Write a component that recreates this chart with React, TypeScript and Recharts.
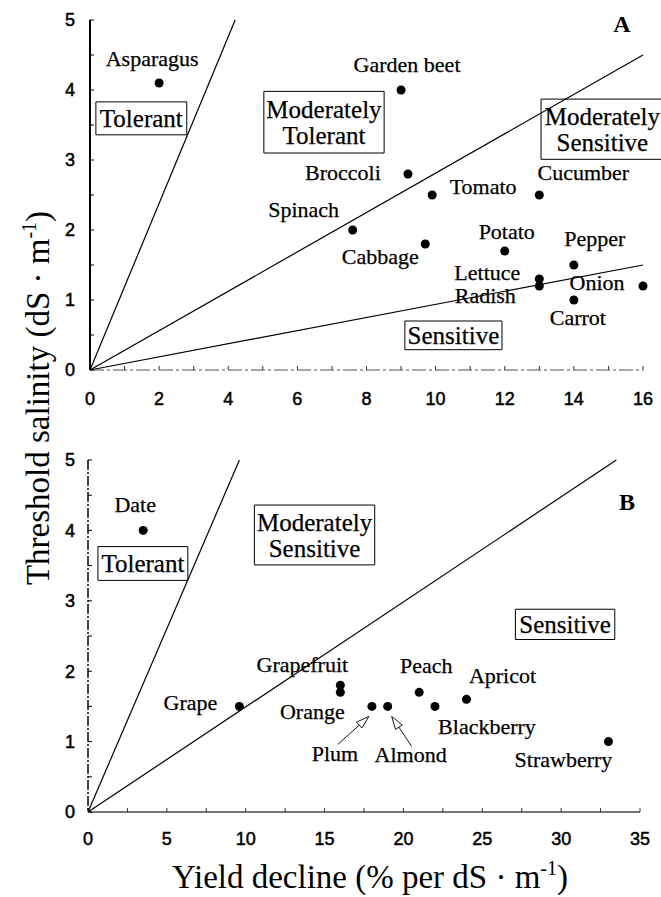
import React from 'react';
import { ScatterChart, Scatter, XAxis, YAxis, ReferenceLine, ReferenceArea } from 'recharts';

// Panel A: vegetable crops
const vegNames = ['Asparagus', 'Garden beet', 'Broccoli', 'Tomato', 'Cucumber', 'Spinach', 'Cabbage', 'Potato', 'Pepper', 'Lettuce', 'Radish', 'Onion', 'Carrot'];
const vegYieldDecline = [2, 9, 9.2, 9.9, 13, 7.6, 9.7, 12, 14, 13, 13, 16, 14];
const vegThreshold = [4.1, 4.0, 2.8, 2.5, 2.5, 2.0, 1.8, 1.7, 1.5, 1.3, 1.2, 1.2, 1.0];

// Panel B: fruit crops
const fruitNames = ['Date', 'Grape', 'Grapefruit', 'Orange', 'Plum', 'Almond', 'Peach', 'Blackberry', 'Apricot', 'Strawberry'];
const fruitYieldDecline = [3.5, 9.6, 16, 16, 18, 19, 21, 22, 24, 33];
const fruitThreshold = [4.0, 1.5, 1.8, 1.7, 1.5, 1.5, 1.7, 1.5, 1.6, 1.0];

// class boundaries, lines through the origin ending at [x, y]
const vegBoundaryEnds = [[4.2, 5], [16, 4.5], [16, 1.5]];
const fruitBoundaryEnds = [[9.6, 5], [33.5, 5]];

const vegXTicks = [0, 1, 2, 3, 4, 5, 6, 7, 8, 9, 10, 11, 12, 13, 14, 15, 16];
const fruitXTicks = [0, 2.5, 5, 7.5, 10, 12.5, 15, 17.5, 20, 22.5, 25, 27.5, 30, 32.5, 35];
const yTicks = [0, 0.5, 1, 1.5, 2, 2.5, 3, 3.5, 4, 4.5, 5];

const vegData = vegNames.map((name, i) => ({ name, x: vegYieldDecline[i], y: vegThreshold[i] }));
const fruitData = fruitNames.map((name, i) => ({ name, x: fruitYieldDecline[i], y: fruitThreshold[i] }));

// where each point's name sits relative to the dot (label centre x, baseline y)
const vegLabelOffset: Record<string, [number, number]> = {
  Asparagus: [-7, -17], 'Garden beet': [6, -18], Broccoli: [-65, 6], Tomato: [51, -1],
  Cucumber: [44, -15], Spinach: [-49, -13], Cabbage: [-45, 20], Potato: [2, -12],
  Pepper: [21, -19], Lettuce: [-52, 1], Radish: [-54, 17], Onion: [-46, 4], Carrot: [4, 25],
};
const fruitLabelOffset: Record<string, [number, number]> = {
  Date: [-8, -18], Grape: [-49, 4], Grapefruit: [-38, -13], Orange: [-28, 27],
  Plum: [-37, 55], Almond: [23, 56], Peach: [7, -19], Apricot: [36, -16],
  Blackberry: [52, 28], Strawberry: [-45, 25],
};
// pointer arrows: [tailDx, tailDy, tipDx, tipDy]
const fruitArrows: Record<string, [number, number, number, number]> = {
  Plum: [-34, 38, -3, 10],
  Almond: [24, 40, 4, 10],
};

// class boxes in data units: [x1, x2, y1, y2]
const vegBoxes: { lines: string[]; box: [number, number, number, number] }[] = [
  { lines: ['Tolerant'], box: [0.17, 2.8, 3.36, 3.83] },
  { lines: ['Moderately', 'Tolerant'], box: [5.03, 8.51, 3.1, 3.98] },
  { lines: ['Moderately', 'Sensitive'], box: [13.05, 16.6, 3.01, 3.87] },
  { lines: ['Sensitive'], box: [9.11, 11.92, 0.29, 0.7] },
];
const fruitBoxes: { lines: string[]; box: [number, number, number, number] }[] = [
  { lines: ['Tolerant'], box: [0.63, 6.33, 3.29, 3.77] },
  { lines: ['Moderately', 'Sensitive'], box: [10.55, 18.18, 3.51, 4.36] },
  { lines: ['Sensitive'], box: [27.1, 33.4, 2.45, 2.88] },
];

const SERIF = "'Liberation Serif', 'Times New Roman', serif";
const SANS = "'Liberation Sans', Arial, sans-serif";
const tickStyle = { fill: '#000', fontSize: 18, fontFamily: SANS, stroke: '#000', strokeWidth: 0.5 };

const BoxLabel = ({ viewBox, lines }: any) => {
  const { x, y, width, height } = viewBox;
  const cx = x + width / 2;
  const cy = y + height / 2;
  const lh = 26;
  return (
    <g>
      {lines.map((t: string, i: number) => (
        <text key={t + i} x={cx} y={cy + (i - (lines.length - 1) / 2) * lh + 9} textAnchor="middle" fontFamily={SERIF} fontSize={25} fill="#000" stroke="#000" strokeWidth={0.25}>
          {t}
        </text>
      ))}
    </g>
  );
};

const makeShape = (offsets: Record<string, [number, number]>, arrows: Record<string, [number, number, number, number]>) => (props: any) => {
  const { cx, cy, payload } = props;
  const [dx, dy] = offsets[payload.name] ?? [0, -12];
  const arrow = arrows[payload.name];
  let arrowEl = null;
  if (arrow) {
    const tx = cx + arrow[0], ty = cy + arrow[1];
    const px = cx + arrow[2], py = cy + arrow[3];
    const len = Math.hypot(px - tx, py - ty);
    const ux = (px - tx) / len, uy = (py - ty) / len;
    const bx = px - ux * 13, by = py - uy * 13;
    const nx = -uy * 4, ny = ux * 4;
    arrowEl = (
      <g>
        <line x1={tx} y1={ty} x2={bx} y2={by} stroke="#000" strokeWidth={0.9} />
        <polygon points={`${px},${py} ${bx + nx},${by + ny} ${bx - nx},${by - ny}`} fill="#fff" stroke="#000" strokeWidth={0.9} />
      </g>
    );
  }
  return (
    <g>
      <circle cx={cx} cy={cy} r={4.5} fill="#000" />
      <text x={cx + dx} y={cy + dy} textAnchor="middle" fontFamily={SERIF} fontSize={22} fill="#000" stroke="#000" strokeWidth={0.25}>
        {payload.name}
      </text>
      {arrowEl}
    </g>
  );
};

const App = () => {
  return (
    <div style={{ position: 'absolute', left: 0, top: 0, width: 661, height: 897, background: '#fff' }}>
      <div style={{ position: 'absolute', left: 0, top: 0 }}>
        <ScatterChart width={661} height={430} margin={{ top: 20, right: 18, bottom: 0, left: 0 }}>
          <XAxis
            type="number" dataKey="x" domain={[0, 16]} ticks={vegXTicks} interval={0} height={60}
            tickFormatter={(v) => (v % 2 === 0 ? String(v) : '')}
            tick={tickStyle} tickSize={-4} tickMargin={26}
            axisLine={{ stroke: '#555', strokeWidth: 1.2, strokeDasharray: '14 3 3 3' }} tickLine={{ stroke: '#333' }}
          />
          <YAxis
            type="number" dataKey="y" domain={[0, 5]} ticks={yTicks} interval={0} width={90}
            tickFormatter={(v) => (Number.isInteger(v) ? String(v) : '')}
            tick={tickStyle} tickSize={-4} tickMargin={19}
            axisLine={{ stroke: '#000', strokeWidth: 2 }} tickLine={{ stroke: '#000' }}
          />
          {vegBoundaryEnds.map((e, i) => (
            <ReferenceLine key={'vb' + i} segment={[{ x: 0, y: 0 }, { x: e[0], y: e[1] }]} stroke="#000" strokeWidth={1.2} ifOverflow="visible" />
          ))}
          {vegBoxes.map((b, i) => (
            <ReferenceArea key={'vx' + i} x1={b.box[0]} x2={b.box[1]} y1={b.box[2]} y2={b.box[3]} fill="none" stroke="#000" strokeWidth={1} ifOverflow="visible" label={<BoxLabel lines={b.lines} />} />
          ))}
          <Scatter data={vegData} isAnimationActive={false} shape={makeShape(vegLabelOffset, {})} />
        </ScatterChart>
      </div>
      <div style={{ position: 'absolute', left: 0, top: 440 }}>
        <ScatterChart width={661} height={457} margin={{ top: 20, right: 21, bottom: 0, left: 0 }}>
          <XAxis
            type="number" dataKey="x" domain={[0, 35]} ticks={fruitXTicks} interval={0} height={85}
            tickFormatter={(v) => (v % 5 === 0 ? String(v) : '')}
            tick={tickStyle} tickSize={-4} tickMargin={24}
            axisLine={{ stroke: '#444', strokeWidth: 1.5 }} tickLine={{ stroke: '#333' }}
          />
          <YAxis
            type="number" dataKey="y" domain={[0, 5]} ticks={yTicks} interval={0} width={88}
            tickFormatter={(v) => (Number.isInteger(v) ? String(v) : '')}
            tick={tickStyle} tickSize={-4} tickMargin={17}
            axisLine={{ stroke: '#000', strokeWidth: 1.5, strokeDasharray: '10 2 2 2' }} tickLine={{ stroke: '#000' }}
          />
          {fruitBoundaryEnds.map((e, i) => (
            <ReferenceLine key={'fb' + i} segment={[{ x: 0, y: 0 }, { x: e[0], y: e[1] }]} stroke="#000" strokeWidth={1.2} ifOverflow="visible" />
          ))}
          {fruitBoxes.map((b, i) => (
            <ReferenceArea key={'fx' + i} x1={b.box[0]} x2={b.box[1]} y1={b.box[2]} y2={b.box[3]} fill="none" stroke="#000" strokeWidth={1} ifOverflow="visible" label={<BoxLabel lines={b.lines} />} />
          ))}
          <Scatter data={fruitData} isAnimationActive={false} shape={makeShape(fruitLabelOffset, fruitArrows)} />
        </ScatterChart>
      </div>
      <svg width={661} height={897} style={{ position: 'absolute', left: 0, top: 0, pointerEvents: 'none' }}>
        <text x={622} y={32} textAnchor="middle" fontFamily={SERIF} fontWeight="bold" fontSize={24}>A</text>
        <text x={627} y={510} textAnchor="middle" fontFamily={SERIF} fontWeight="bold" fontSize={24}>B</text>
        <text x={370} y={888} textAnchor="middle" fontFamily={SERIF} fontSize={33}>
          Yield decline (% per dS · m<tspan dy={-13} fontSize={20}>-1</tspan><tspan dy={13}>)</tspan>
        </text>
        <text x={49} y={398} transform="rotate(-90, 49, 398)" textAnchor="middle" fontFamily={SERIF} fontSize={33}>
          Threshold salinity (dS · m<tspan dy={-13} fontSize={20}>-1</tspan><tspan dy={13}>)</tspan>
        </text>
      </svg>
    </div>
  );
};

export default App;
